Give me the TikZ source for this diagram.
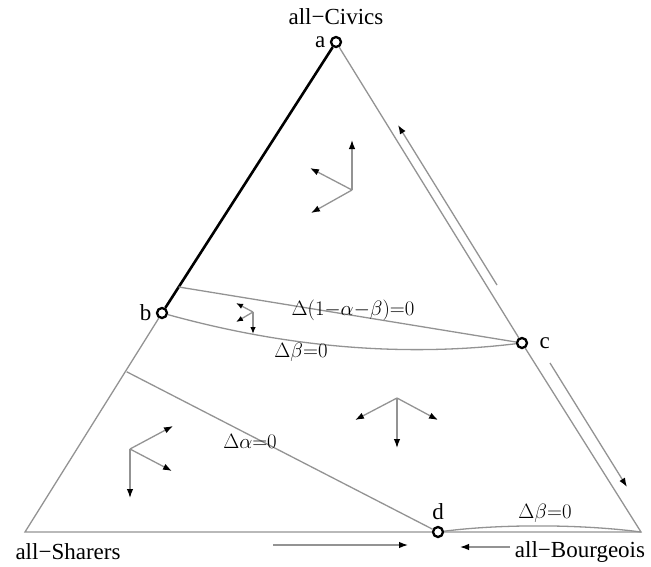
\documentclass[tikz,border=0pt]{standalone}
\usepackage{fontspec}
\setmainfont{Liberation Serif}
\usetikzlibrary{arrows.meta,positioning,calc}
\tikzset{
  edge/.style={gray!85, line width=1.3pt},
  vec/.style={gray!85, line width=1.3pt, -{Latex[color=black,length=9pt,width=6.5pt]}},
  smallvec/.style={vec, -{Latex[color=black,length=7pt,width=5.5pt]}},
  dot/.style={circle, draw=black, fill=white, line width=2.3pt, minimum size=10pt, inner sep=0pt},
  eqlabel/.style={font=\fontsize{21}{24}\selectfont},
}
\begin{document}
\begin{tikzpicture}[x=1pt, y=-1pt, font=\fontsize{23}{26}\selectfont]
  \useasboundingbox (0,0) rectangle (651,566);
  \node[dot] (a) at (336,42) {};\node[dot] (b) at (162,313) {};
  \node[dot] (c) at (522,343) {};\node[dot] (d) at (438,532) {};
  \coordinate (shr) at (25,532);\coordinate (brg) at (641,532);
  \coordinate (p) at ($(a)!0.673!(shr)$);\coordinate (q) at ($(b)!0.096!(a)$);
  % triangle
  \draw[black, line width=2.6pt] (b) -- (a);
  \draw[edge] (b) -- (shr) -- (d);
  \draw[edge] (a) -- (c);\draw[edge] (c) -- (brg) -- (d);
  % nullclines
  \draw[edge] (q) -- (c);
  \draw[edge] (b) .. controls (260,340) and (380,360) .. (c);
  \draw[edge] (p) -- (d);
  \draw[edge] (d) .. controls (500,524) and (580,524) .. (brg);
  % labels
  \node (civ) [above=8pt of a] {all−Civics};
  \node (shl) at (68,552) {all−Sharers};
  \node (brl) at (580,552) {all−Bourgeois};
  \node[left=1pt of a] {a};\node[left=1pt of b] {b};
  \node[right=8pt of c] {c};\node[above=3pt of d] {d};
  \node[eqlabel] (n1) at (353,310) {$\Delta(1{-}\alpha{-}\beta){=}0$};
  \node[eqlabel] (n2) at (301,352) {$\Delta\beta{=}0$};
  \node[eqlabel] (n3) at (250,441) {$\Delta\alpha{=}0$};
  \node[eqlabel] (n4) at (545,513) {$\Delta\beta{=}0$};
  % direction fields
  \coordinate (v1) at (352,190);\coordinate (v2) at (397,398);
  \coordinate (v3) at (130,449);\coordinate (v4) at (253,312);
  \foreach \e in {(0,-50),(-42,-22),(-41,23)} \draw[vec] (v1) -- ++\e;
  \foreach \e in {(-42,22),(0,50),(41,22)} \draw[vec] (v2) -- ++\e;
  \foreach \e in {(43,-23),(42,22),(0,49)} \draw[vec] (v3) -- ++\e;
  \foreach \e in {(-17,-9),(-17,10),(0,22)} \draw[smallvec] (v4) -- ++\e;
  % flow along the edges
  \coordinate (s1) at (497,285);\coordinate (t1) at (398,125);
  \coordinate (s2) at (550,363);\coordinate (t2) at (627,487);
  \coordinate (s3) at (273,545);\coordinate (t3) at (408,545);
  \coordinate (s4) at (510,547);\coordinate (t4) at (460,547);
  \draw[vec] (s1) -- (t1);\draw[vec] (s2) -- (t2);
  \draw[vec] (s3) -- (t3);\draw[vec] (s4) -- (t4);
\end{tikzpicture}
\end{document}
